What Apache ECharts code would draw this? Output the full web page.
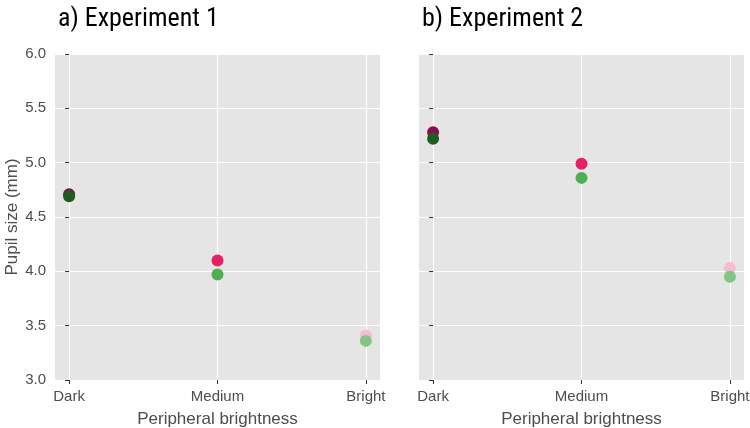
<!DOCTYPE html>
<html>
<head>
<meta charset="utf-8">
<script src="https://cdn.jsdelivr.net/npm/echarts@6/dist/echarts.min.js"></script>
<style>
html, body { margin: 0; padding: 0; background: #fff; }
#chart { width: 750px; height: 428px; }
</style>
</head>
<body>
<div id="chart"></div>
<script>
// brightness levels on the x axis
var levels = ['Dark', 'Medium', 'Bright'];
var yTicks = [3.0, 3.5, 4.0, 4.5, 5.0, 5.5, 6.0];

// pupil size (mm), two conditions per experiment
var exp1Pink = [4.71, 4.10, 3.41];
var exp1Green = [4.69, 3.97, 3.36];
var exp2Pink = [5.28, 4.99, 4.03];
var exp2Green = [5.22, 4.86, 3.95];

var pinkShades = ['#880e4f', '#e91e63', '#f8bbd0'];
var greenShades = ['#1b5e20', '#4caf50', '#81c784'];

var labelFont = 'Liberation Sans, Arial, sans-serif';
var titleFont = 'Roboto Condensed, Liberation Sans Narrow, Roboto, sans-serif';

function pts(vals, shades) {
    return vals.map(function (v, i) {
        return { value: [i, v], itemStyle: { color: shades[i], opacity: 1 } };
    });
}

function xAxisFor(idx) {
    return {
        gridIndex: idx,
        type: 'value',
        min: -0.095,
        max: 2.095,
        name: 'Peripheral brightness',
        nameLocation: 'middle',
        nameGap: 31,
        nameTextStyle: { color: '#4d4d4d', fontSize: 17, fontFamily: labelFont },
        axisLine: { show: false },
        axisTick: { show: true, customValues: [0, 1, 2], length: 4, lineStyle: { color: '#333' } },
        axisLabel: {
            customValues: [0, 1, 2],
            color: '#4d4d4d', fontSize: 15, fontFamily: labelFont, margin: 9,
            formatter: function (v) { return levels[Math.round(v)]; }
        },
        splitLine: { show: true, lineStyle: { color: '#fff', width: 1.2 } }
    };
}

function yAxisFor(idx, showLabels) {
    return {
        gridIndex: idx,
        type: 'value',
        min: yTicks[0],
        max: yTicks[yTicks.length - 1],
        interval: 0.5,
        name: showLabels ? 'Pupil size (mm)' : '',
        nameLocation: 'middle',
        nameGap: 33,
        nameTextStyle: { color: '#4d4d4d', fontSize: 17, fontFamily: labelFont },
        axisLine: { show: false },
        axisTick: { show: true, length: 4, lineStyle: { color: '#333' } },
        axisLabel: {
            show: showLabels,
            color: '#4d4d4d', fontSize: 15, fontFamily: labelFont, margin: 9,
            formatter: function (v) { return v.toFixed(1); }
        },
        splitLine: { show: true, lineStyle: { color: '#fff', width: 1.2 } }
    };
}

var chart = echarts.init(document.getElementById('chart'), null, { renderer: 'canvas' });
chart.setOption({
    backgroundColor: '#fff',
    animation: false,
    title: [
        { text: 'a) Experiment 1', left: 53, top: 1,
          textStyle: { fontSize: 26, fontWeight: 'normal', color: '#000', fontFamily: titleFont } },
        { text: 'b) Experiment 2', left: 417, top: 1,
          textStyle: { fontSize: 26, fontWeight: 'normal', color: '#000', fontFamily: titleFont } }
    ],
    grid: [
        { left: 55, top: 54, width: 325, height: 326, outerBoundsMode: 'none', containLabel: false,
          show: true, backgroundColor: '#e5e5e5', borderWidth: 0 },
        { left: 419, top: 54, width: 325, height: 326, outerBoundsMode: 'none', containLabel: false,
          show: true, backgroundColor: '#e5e5e5', borderWidth: 0 }
    ],
    xAxis: [xAxisFor(0), xAxisFor(1)],
    yAxis: [yAxisFor(0, true), yAxisFor(1, false)],
    series: [
        { type: 'scatter', xAxisIndex: 0, yAxisIndex: 0, symbolSize: 12, data: pts(exp1Pink, pinkShades) },
        { type: 'scatter', xAxisIndex: 0, yAxisIndex: 0, symbolSize: 12, data: pts(exp1Green, greenShades) },
        { type: 'scatter', xAxisIndex: 1, yAxisIndex: 1, symbolSize: 12, data: pts(exp2Pink, pinkShades) },
        { type: 'scatter', xAxisIndex: 1, yAxisIndex: 1, symbolSize: 12, data: pts(exp2Green, greenShades) }
    ]
});
</script>
</body>
</html>
